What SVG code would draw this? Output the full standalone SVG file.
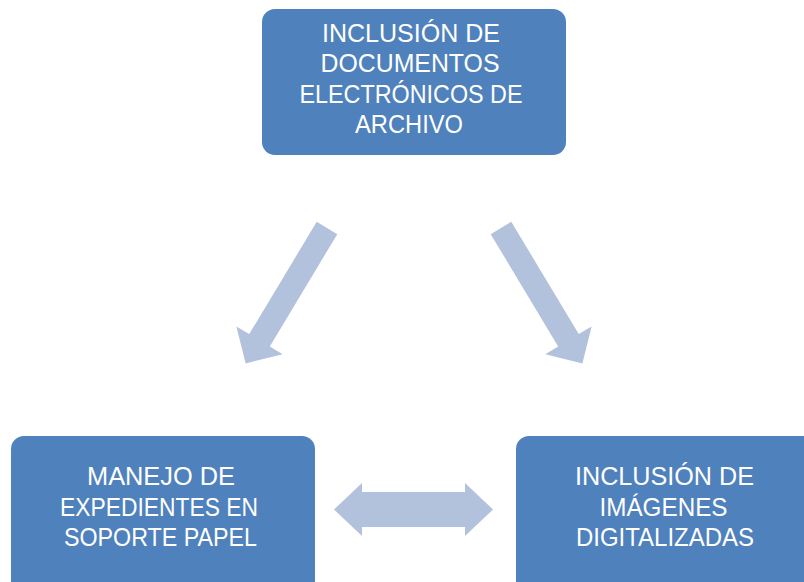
<svg xmlns="http://www.w3.org/2000/svg" width="804" height="582" viewBox="0 0 804 582">
  <style>
    .box { fill: #4F81BD; }
    .lbl { font-family: "Liberation Sans", Arial, sans-serif; font-size: 25px; fill: #FFFFFF; text-anchor: middle; }
    .arr { fill: #B3C2DC; }
  </style>
  <defs>
    <path id="slant" d="M0,-12 L131,-12 L131,-27 L158,0 L131,27 L131,12 L0,12 Z"/>
  </defs>
  <rect width="804" height="582" fill="#FFFFFF"/>

  <g id="connectors">
    <use href="#slant" class="arr" transform="translate(327,228) rotate(121)"/>
    <use href="#slant" class="arr" transform="translate(501,228) rotate(59)"/>
    <path class="arr" d="M334,509.5 L362,483 L362,492 L465,492 L465,483 L493,509.5 L465,536 L465,527 L362,527 L362,536 Z"/>
  </g>

  <g id="node-top">
    <rect class="box" x="262" y="9" width="304" height="146" rx="13" ry="13"/>
    <text class="lbl" x="411" y="41.5" textLength="178" lengthAdjust="spacingAndGlyphs">INCLUSIÓN DE</text>
    <text class="lbl" x="410" y="72" textLength="179" lengthAdjust="spacingAndGlyphs">DOCUMENTOS</text>
    <text class="lbl" x="411" y="102.5" textLength="223" lengthAdjust="spacingAndGlyphs">ELECTRÓNICOS DE</text>
    <text class="lbl" x="409" y="133" textLength="108" lengthAdjust="spacingAndGlyphs">ARCHIVO</text>
  </g>

  <g id="node-left">
    <rect class="box" x="11" y="436" width="304" height="160" rx="13" ry="13"/>
    <text class="lbl" x="161" y="485" textLength="148" lengthAdjust="spacingAndGlyphs">MANEJO DE</text>
    <text class="lbl" x="159" y="515.5" textLength="198" lengthAdjust="spacingAndGlyphs">EXPEDIENTES EN</text>
    <text class="lbl" x="160.5" y="546" textLength="193" lengthAdjust="spacingAndGlyphs">SOPORTE PAPEL</text>
  </g>

  <g id="node-right">
    <rect class="box" x="516" y="436" width="304" height="160" rx="13" ry="13"/>
    <text class="lbl" x="664.5" y="485" textLength="179" lengthAdjust="spacingAndGlyphs">INCLUSIÓN DE</text>
    <text class="lbl" x="663.5" y="515.5" textLength="128" lengthAdjust="spacingAndGlyphs">IMÁGENES</text>
    <text class="lbl" x="665" y="546" textLength="178" lengthAdjust="spacingAndGlyphs">DIGITALIZADAS</text>
  </g>
</svg>
